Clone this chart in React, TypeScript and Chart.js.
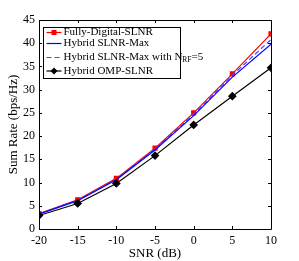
import React, { useEffect, useRef } from "react";
import { Chart, registerables } from "chart.js";

Chart.register(...registerables);

const snr = [-20, -15, -10, -5, 0, 5, 10];
const fullyDigital = [3.3, 6.3, 10.9, 17.4, 25.0, 33.4, 42.0];
const hybridMax = [3.2, 6.1, 10.6, 17.0, 24.4, 32.7, 39.8];
const hybridMaxNrf5 = [3.25, 6.2, 10.7, 17.2, 24.7, 33.1, 40.8];
const hybridOmp = [2.9, 5.5, 9.8, 15.8, 22.4, 28.6, 34.7];
const xTicks = [-20, -15, -10, -5, 0, 5, 10];
const yTicks = [0, 5, 10, 15, 20, 25, 30, 35, 40, 45];

const FONT = "'Liberation Serif', 'Times New Roman', serif";

const boxPlugin = {
  id: "boxPlugin",
  afterDraw(chart: any) {
    const { ctx, chartArea: a, scales } = chart;
    ctx.save();
    ctx.strokeStyle = "#000";
    ctx.lineWidth = 1;
    ctx.beginPath();
    ctx.rect(Math.round(a.left) + 0.5, Math.round(a.top) + 0.5, Math.round(a.right - a.left), Math.round(a.bottom - a.top));
    ctx.stroke();
    const tl = 3;
    ctx.beginPath();
    for (const v of xTicks) {
      const x = Math.round(scales.x.getPixelForValue(v)) + 0.5;
      ctx.moveTo(x, a.bottom); ctx.lineTo(x, a.bottom - tl);
      ctx.moveTo(x, a.top); ctx.lineTo(x, a.top + tl);
    }
    for (const v of yTicks) {
      const y = Math.round(scales.y.getPixelForValue(v)) + 0.5;
      ctx.moveTo(a.left, y); ctx.lineTo(a.left + tl, y);
      ctx.moveTo(a.right, y); ctx.lineTo(a.right - tl, y);
    }
    ctx.stroke();

    // legend
    const lx = 43.5, ly = 27.5, lw = 137, lh = 51;
    ctx.fillStyle = "#fff";
    ctx.fillRect(lx, ly, lw, lh);
    ctx.strokeStyle = "#000";
    ctx.strokeRect(lx, ly, lw, lh);
    const items = [
      { label: "Fully-Digital-SLNR", color: "#ff0000", dash: [] as number[], marker: "square", sub: false },
      { label: "Hybrid SLNR-Max", color: "#0000ff", dash: [], marker: "", sub: false },
      { label: "Hybrid SLNR-Max with N", color: "#4646ff", dash: [5, 3], marker: "", sub: true },
      { label: "Hybrid OMP-SLNR", color: "#000000", dash: [], marker: "diamond", sub: false },
    ];
    const rows = [32.5, 43.5, 57.5, 71];
    items.forEach((it, i) => {
      const yy = rows[i];
      ctx.strokeStyle = it.color;
      ctx.lineWidth = 1.2;
      ctx.setLineDash(it.dash);
      ctx.beginPath();
      ctx.moveTo(lx + 3, yy);
      ctx.lineTo(lx + 18, yy);
      ctx.stroke();
      ctx.setLineDash([]);
      if (it.marker === "square") {
        ctx.fillStyle = it.color;
        ctx.fillRect(lx + 10.5 - 2.5, yy - 2.5, 5, 5);
      } else if (it.marker === "diamond") {
        ctx.fillStyle = it.color;
        ctx.beginPath();
        const cx = lx + 10.5;
        ctx.moveTo(cx, yy - 3.5); ctx.lineTo(cx + 3.5, yy); ctx.lineTo(cx, yy + 3.5); ctx.lineTo(cx - 3.5, yy);
        ctx.closePath(); ctx.fill();
      }
      ctx.fillStyle = "#000";
      ctx.font = `11px ${FONT}`;
      ctx.textBaseline = "middle";
      ctx.textAlign = "left";
      ctx.fillText(it.label, lx + 20, yy);
      if (it.sub) {
        const w = ctx.measureText(it.label).width;
        ctx.font = `7.5px ${FONT}`;
        ctx.fillText("RF", lx + 20 + w, yy + 3);
        const w2 = ctx.measureText("RF").width;
        ctx.font = `11px ${FONT}`;
        ctx.fillText("=5", lx + 20 + w + w2, yy);
      }
    });
    ctx.restore();
  },
};

export default function App() {
  const ref = useRef<HTMLCanvasElement>(null);
  useEffect(() => {
    document.body.style.margin = "0";
    const mk = (label: string, data: number[], color: string, extra: any) => ({
      label,
      data: snr.map((x, i) => ({ x, y: data[i] })),
      borderColor: color,
      backgroundColor: color,
      borderWidth: 1.2,
      pointRadius: 0,
      ...extra,
    });
    const chart = new Chart(ref.current!, {
      type: "line",
      data: {
        datasets: [
          mk("Hybrid OMP-SLNR", hybridOmp, "#000000", { pointStyle: "rectRot", pointRadius: 3.5 }),
          mk("Hybrid SLNR-Max", hybridMax, "#0000ff", {}),
          mk("Hybrid SLNR-Max with N_RF=5", hybridMaxNrf5, "#4646ff", { borderDash: [5, 3] }),
          mk("Fully-Digital-SLNR", fullyDigital, "#ff0000", { pointStyle: "rect", pointRadius: 2.8 }),
        ],
      },
      options: {
        animation: false,
        responsive: false,
        layout: { padding: { top: 20, right: 28, left: 0, bottom: 0 } },
        plugins: { legend: { display: false }, tooltip: { enabled: false } },
        scales: {
          x: {
            type: "linear",
            min: -20,
            max: 10,
            afterBuildTicks: (s: any) => { s.ticks = xTicks.map((v) => ({ value: v })); },
            afterFit: (s: any) => { s.height = 32; },
            grid: { display: false, drawTicks: false },
            border: { display: false },
            ticks: { color: "#000", font: { family: FONT, size: 12 }, padding: 5 },
            title: { display: true, text: "SNR (dB)", color: "#000", font: { family: FONT, size: 13 }, padding: { top: 0, bottom: 0 } },
          },
          y: {
            type: "linear",
            min: 0,
            max: 45,
            afterBuildTicks: (s: any) => { s.ticks = yTicks.map((v) => ({ value: v })); },
            afterFit: (s: any) => { s.width = 39; },
            grid: { display: false, drawTicks: false },
            border: { display: false },
            ticks: { color: "#000", font: { family: FONT, size: 12 }, padding: 4 },
            title: { display: true, text: "Sum Rate (bps/Hz)", color: "#000", font: { family: FONT, size: 13 }, padding: { top: 6, bottom: 0 } },
          },
        },
      },
      plugins: [boxPlugin],
    });
    return () => chart.destroy();
  }, []);
  return <canvas ref={ref} width={299} height={261} style={{ display: "block" }} />;
}
